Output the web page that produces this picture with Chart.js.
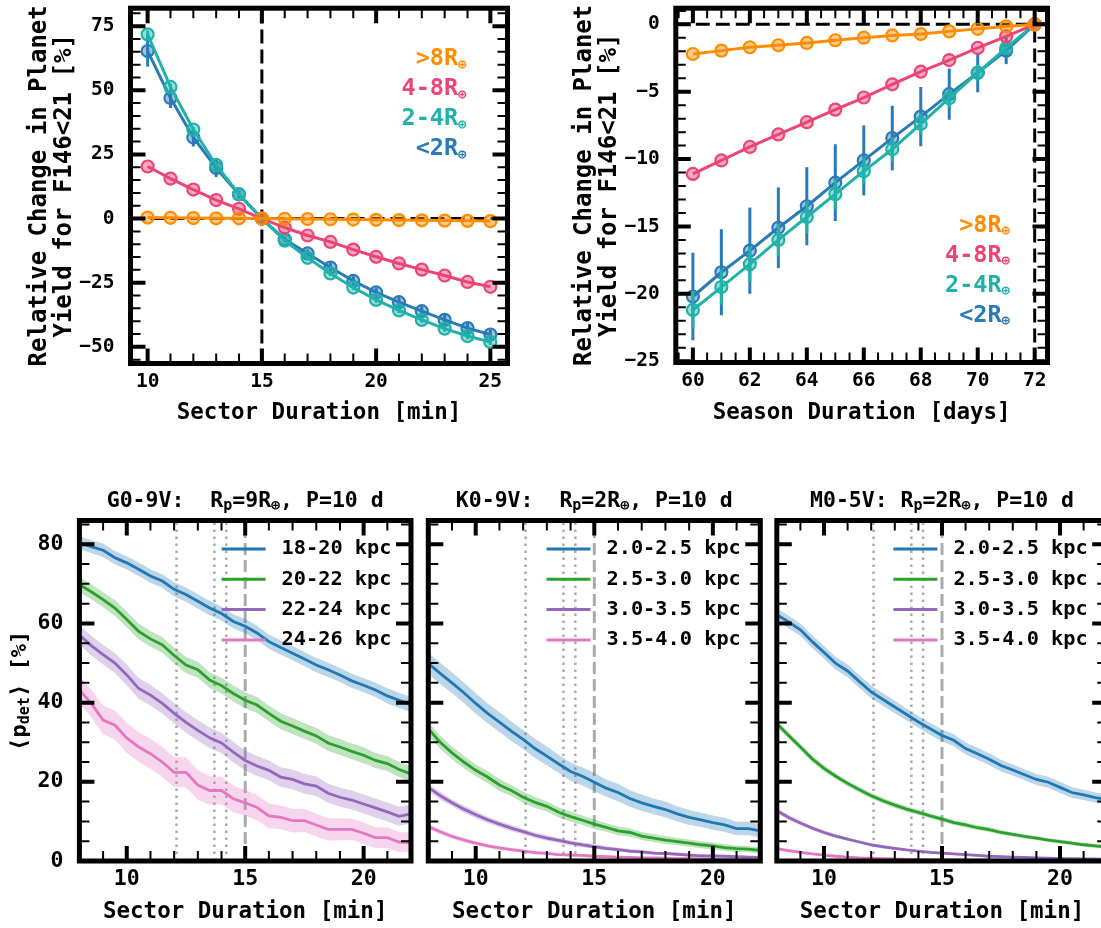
<!DOCTYPE html>
<html>
<head>
<meta charset="utf-8">
<title>Planet yield vs sector and season duration</title>
<script src="https://cdn.jsdelivr.net/npm/chart.js@4.4.1/dist/chart.umd.min.js"></script>
<style>
  html, body { margin: 0; padding: 0; background: #fff; }
  body { position: relative; width: 1101px; height: 928px; overflow: hidden; }
  canvas { position: absolute; }
</style>
</head>
<body>
<canvas id="sectorChart" width="540" height="430" style="left:0;top:0"></canvas>
<canvas id="seasonChart" width="561" height="430" style="left:540px;top:0"></canvas>
<canvas id="gChart" width="420" height="458" style="left:0;top:470px"></canvas>
<canvas id="kChart" width="350" height="458" style="left:420px;top:470px"></canvas>
<canvas id="mChart" width="345" height="458" style="left:770px;top:470px"></canvas>
<script>
// ---- top row: relative change in yield ----
const sizeBins = ['>8', '4-8', '2-4', '<2'];
const sizeColors = ['#ff8c00', '#ec4474', '#20b2aa', '#2a7ab8'];

const sectorMin = [10, 11, 12, 13, 14, 15, 16, 17, 18, 19, 20, 21, 22, 23, 24, 25];
const sectorGiant = [0.4, 0.3, 0.2, 0.1, 0.1, 0, -0.1, -0.2, -0.3, -0.4, -0.5, -0.6, -0.7, -0.8, -0.9, -1.0];
const sectorLarge = [20.3, 15.6, 11.3, 7.2, 3.8, 0, -3.5, -6.6, -9.1, -12.1, -14.9, -17.5, -19.9, -22.2, -24.7, -26.6];
const sectorMid = [71.8, 51.3, 34.7, 20.9, 9.5, 0, -8.6, -15.3, -21.4, -26.9, -31.7, -35.8, -39.5, -42.9, -45.8, -48.1];
const sectorSmall = [65.3, 47.0, 31.6, 19.7, 9.4, 0, -8.1, -13.6, -19.1, -24.3, -28.8, -32.6, -36.1, -39.5, -42.7, -45.2];
const sectorMidErr = [1.5, 1.2, 1.0, 0.8, 0.6, 0, 0.6, 0.8, 1.0, 1.0, 1.1, 1.1, 1.1, 1.2, 1.2, 1.2];
const sectorSmallErr = [6.1, 3.9, 3.5, 3.5, 1.5, 0, 1.0, 1.5, 1.8, 1.8, 2.0, 2.0, 2.0, 2.0, 2.0, 2.0];

const seasonDays = [60, 61, 62, 63, 64, 65, 66, 67, 68, 69, 70, 71, 72];
const seasonGiant = [-2.2, -1.95, -1.7, -1.55, -1.38, -1.18, -0.99, -0.82, -0.72, -0.52, -0.33, -0.15, 0];
const seasonLarge = [-11.1, -10.1, -9.1, -8.17, -7.26, -6.33, -5.43, -4.45, -3.51, -2.65, -1.75, -0.89, 0];
const seasonMid = [-21.2, -19.5, -17.8, -16.0, -14.3, -12.6, -10.9, -9.27, -7.39, -5.48, -3.59, -1.75, 0];
const seasonSmall = [-20.2, -18.4, -16.8, -15.1, -13.5, -11.75, -10.1, -8.44, -6.85, -5.18, -3.59, -1.95, 0];
const seasonMidErr = [1.4, 1.3, 1.3, 1.2, 1.2, 1.1, 1.0, 0.9, 0.8, 0.7, 0.6, 0.4, 0];
const seasonSmallErr = [3.25, 3.2, 3.2, 3.0, 2.9, 2.85, 2.6, 2.4, 2.2, 1.9, 1.45, 1.0, 0];

const nominalSector = 15;
const nominalSeason = 72;

// ---- bottom row: mean detection probability ----
const durGrid = [8, 8.5, 9, 9.5, 10, 10.5, 11, 11.5, 12, 12.5, 13, 13.5, 14, 14.5, 15, 15.5, 16, 16.5, 17, 17.5, 18, 18.5, 19, 19.5, 20, 20.5, 21, 21.5, 22];
const binColors = ['#1f77b4', '#2ca02c', '#9467bd', '#e377c2'];
const gBins = ['18-20 kpc', '20-22 kpc', '22-24 kpc', '24-26 kpc'];
const kBins = ['2.0-2.5 kpc', '2.5-3.0 kpc', '3.0-3.5 kpc', '3.5-4.0 kpc'];
const mBins = ['2.0-2.5 kpc', '2.5-3.0 kpc', '3.0-3.5 kpc', '3.5-4.0 kpc'];
const cadenceDotted = [12.1, 13.7, 14.2];

const g18_20 = [80.4, 79.4, 78.5, 76.6, 75.3, 73.7, 72.0, 70.7, 68.6, 67.3, 65.6, 63.9, 62.5, 60.5, 59.3, 57.6, 55.4, 53.9, 52.5, 51.0, 49.5, 48.3, 47.0, 45.5, 44.4, 43.2, 41.7, 40.6, 39.5];
const g20_22 = [69.8, 68.0, 66.0, 63.9, 61.0, 58.0, 56.1, 54.6, 51.9, 49.5, 48.3, 45.7, 44.3, 42.3, 40.6, 39.4, 37.3, 35.3, 34.1, 32.8, 31.6, 29.8, 28.8, 27.7, 26.7, 25.4, 24.6, 23.1, 22.0];
const g22_24 = [57.1, 54.4, 52.1, 50.0, 47.0, 43.6, 41.9, 39.8, 37.3, 35.0, 33.0, 31.1, 29.8, 27.5, 25.4, 24.0, 22.9, 21.2, 20.6, 19.5, 18.9, 17.1, 16.1, 15.4, 14.4, 13.4, 12.4, 11.3, 11.9];
const g24_26 = [43.2, 39.8, 35.6, 34.3, 31.1, 28.8, 27.1, 25.0, 22.4, 22.4, 19.2, 17.8, 17.8, 15.7, 14.7, 13.5, 11.4, 11.0, 10.2, 10.2, 9.1, 8.0, 8.0, 8.0, 7.0, 5.9, 5.9, 4.8, 4.7];
const g18_20Err = [1.6, 1.6, 1.7, 1.7, 1.7, 1.7, 1.7, 1.7, 1.8, 1.8, 1.8, 1.8, 1.8, 1.8, 1.8, 1.8, 1.8, 1.8, 1.8, 1.8, 1.8, 1.8, 1.8, 1.8, 1.8, 1.8, 1.9, 1.9, 1.9];
const g20_22Err = [1.9, 1.9, 1.9, 2.0, 2.0, 2.0, 2.0, 2.0, 2.0, 2.0, 2.0, 2.0, 2.0, 2.0, 2.0, 2.0, 2.0, 2.0, 2.0, 2.0, 2.0, 2.0, 2.0, 2.0, 2.0, 1.9, 1.9, 1.9, 1.9];
const g22_24Err = [2.4, 2.5, 2.5, 2.5, 2.6, 2.6, 2.6, 2.6, 2.6, 2.6, 2.6, 2.6, 2.6, 2.6, 2.5, 2.5, 2.5, 2.5, 2.5, 2.5, 2.5, 2.4, 2.4, 2.4, 2.4, 2.4, 2.4, 2.4, 2.4];
const g24_26Err = [3.4, 3.5, 3.6, 3.7, 3.8, 3.8, 3.8, 3.8, 3.8, 3.8, 3.7, 3.6, 3.5, 3.4, 3.3, 3.2, 3.1, 3.0, 3.0, 2.9, 2.9, 2.8, 2.8, 2.7, 2.7, 2.6, 2.6, 2.5, 2.5];

const k20_25 = [49.9, 47.4, 45.0, 42.5, 39.8, 37.3, 35.1, 32.8, 30.7, 28.4, 26.5, 24.5, 22.6, 21.4, 19.9, 18.4, 17.3, 15.8, 14.7, 13.8, 13.0, 11.9, 11.0, 10.4, 9.7, 9.1, 8.2, 8.2, 7.6];
const k25_30 = [33.4, 30.0, 27.3, 25.0, 22.9, 21.2, 19.2, 17.8, 16.1, 14.8, 13.8, 12.3, 11.2, 10.3, 9.3, 8.5, 7.6, 7.2, 6.3, 5.8, 5.3, 4.9, 4.5, 4.1, 3.8, 3.4, 3.1, 3.0, 2.7];
const k30_35 = [18.6, 16.5, 14.7, 13.1, 11.7, 10.4, 9.3, 8.3, 7.4, 6.5, 5.8, 5.2, 4.6, 4.1, 3.6, 3.2, 2.9, 2.5, 2.3, 2.0, 1.9, 1.7, 1.5, 1.3, 1.3, 1.2, 1.1, 1.0, 0.9];
const k35_40 = [8.7, 7.4, 6.2, 5.3, 4.5, 3.8, 3.3, 2.9, 2.5, 2.1, 1.9, 1.6, 1.5, 1.4, 1.2, 1.1, 1.0, 0.9, 0.8, 0.8, 0.7, 0.6, 0.6, 0.5, 0.5, 0.4, 0.4, 0.4, 0.3];
const k20_25Err = [2.7, 2.7, 2.6, 2.6, 2.6, 2.5, 2.5, 2.5, 2.4, 2.4, 2.4, 2.3, 2.3, 2.3, 2.3, 2.2, 2.2, 2.1, 2.1, 2.0, 2.0, 1.9, 1.9, 1.8, 1.8, 1.8, 1.7, 1.7, 1.7];
const k25_30Err = [1.7, 1.7, 1.6, 1.6, 1.5, 1.5, 1.5, 1.4, 1.4, 1.4, 1.3, 1.3, 1.3, 1.2, 1.2, 1.1, 1.1, 1.1, 1.0, 1.0, 1.0, 0.9, 0.9, 0.9, 0.9, 0.8, 0.8, 0.8, 0.8];
const k30_35Err = [1.0, 1.0, 0.9, 0.9, 0.9, 0.8, 0.8, 0.8, 0.7, 0.7, 0.7, 0.6, 0.6, 0.6, 0.6, 0.5, 0.5, 0.5, 0.5, 0.4, 0.4, 0.4, 0.4, 0.4, 0.3, 0.3, 0.3, 0.3, 0.3];
const k35_40Err = [0.7, 0.6, 0.6, 0.6, 0.5, 0.5, 0.5, 0.4, 0.4, 0.4, 0.4, 0.3, 0.3, 0.3, 0.3, 0.3, 0.3, 0.2, 0.2, 0.2, 0.2, 0.2, 0.2, 0.2, 0.2, 0.2, 0.2, 0.2, 0.2];

const m20_25 = [62.2, 60.4, 58.4, 55.4, 52.7, 49.9, 48.0, 45.3, 42.7, 40.8, 38.9, 37.0, 35.1, 33.4, 31.7, 30.5, 28.4, 27.1, 25.7, 24.1, 23.0, 21.8, 20.6, 19.9, 18.6, 17.3, 16.7, 16.0, 15.5];
const m25_30 = [34.7, 31.7, 28.8, 25.8, 23.4, 21.4, 19.6, 18.0, 16.5, 15.2, 14.1, 13.1, 12.3, 11.4, 10.6, 9.7, 9.1, 8.4, 7.9, 7.2, 6.7, 6.2, 5.8, 5.3, 4.9, 4.5, 4.1, 3.8, 3.5];
const m30_35 = [12.7, 11.0, 9.6, 8.3, 7.2, 6.3, 5.5, 4.8, 4.1, 3.6, 3.2, 2.8, 2.5, 2.2, 2.0, 1.8, 1.6, 1.4, 1.2, 1.1, 1.0, 0.9, 0.8, 0.7, 0.6, 0.6, 0.5, 0.5, 0.4];
const m35_40 = [3.1, 2.6, 2.2, 1.8, 1.5, 1.2, 1.0, 0.8, 0.7, 0.6, 0.5, 0.4, 0.4, 0.3, 0.3, 0.3, 0.2, 0.2, 0.2, 0.2, 0.1, 0.1, 0.1, 0.1, 0.1, 0.1, 0.1, 0.1, 0.1];
const m20_25Err = [1.6, 1.6, 1.6, 1.6, 1.6, 1.6, 1.6, 1.6, 1.6, 1.6, 1.6, 1.5, 1.5, 1.5, 1.5, 1.5, 1.5, 1.5, 1.5, 1.5, 1.4, 1.4, 1.4, 1.4, 1.4, 1.4, 1.3, 1.3, 1.3];
const m25_30Err = [0.8, 0.8, 0.8, 0.8, 0.8, 0.7, 0.7, 0.7, 0.7, 0.7, 0.7, 0.7, 0.6, 0.6, 0.6, 0.6, 0.6, 0.6, 0.6, 0.6, 0.5, 0.5, 0.5, 0.5, 0.5, 0.5, 0.5, 0.5, 0.5];
const m30_35Err = [0.6, 0.6, 0.5, 0.5, 0.5, 0.5, 0.4, 0.4, 0.4, 0.4, 0.4, 0.3, 0.3, 0.3, 0.3, 0.3, 0.3, 0.2, 0.2, 0.2, 0.2, 0.2, 0.2, 0.2, 0.2, 0.2, 0.2, 0.2, 0.2];
const m35_40Err = [0.4, 0.4, 0.3, 0.3, 0.3, 0.3, 0.2, 0.2, 0.2, 0.2, 0.2, 0.2, 0.2, 0.2, 0.2, 0.1, 0.1, 0.1, 0.1, 0.1, 0.1, 0.1, 0.1, 0.1, 0.1, 0.1, 0.1, 0.1, 0.1];

const FONT = "'DejaVu Sans Mono', 'Liberation Mono', monospace";
Chart.defaults.font.family = FONT;
Chart.defaults.font.weight = 'bold';
Chart.defaults.color = '#000';

const fmt = v => String(v).replace('-', '\u2212');

function fade(hex, a) {
  const n = parseInt(hex.slice(1), 16);
  return 'rgba(' + (n >> 16) + ',' + ((n >> 8) & 255) + ',' + (n & 255) + ',' + a + ')';
}

// text with subscripts: segs = [[text, isSub], ...]
function richText(ctx, segs, x, y, align, size, subSize, drop) {
  const widths = segs.map(s => {
    ctx.font = 'bold ' + (s[1] ? subSize : size) + 'px ' + FONT;
    return ctx.measureText(s[0]).width;
  });
  const total = widths.reduce((a, b) => a + b, 0);
  let cx = align === 'center' ? x - total / 2 : align === 'right' ? x - total : x;
  ctx.textAlign = 'left';
  ctx.textBaseline = 'alphabetic';
  segs.forEach((s, i) => {
    ctx.font = 'bold ' + (s[1] ? subSize : size) + 'px ' + FONT;
    ctx.fillText(s[0], cx, s[1] ? y + drop : y);
    cx += widths[i];
  });
}

// thick frame plus inward major/minor ticks on all four sides
function frameTicks(xMajor, xMinor, yMajor, yMinor) {
  return {
    id: 'frameTicks',
    afterDraw(chart) {
      const { ctx, chartArea: a } = chart;
      const sx = chart.scales.x, sy = chart.scales.y;
      const marks = (sc, step) => {
        const out = [];
        for (let k = Math.ceil(sc.min / step - 1e-9); k * step <= sc.max + 1e-9; k++) out.push(k * step);
        return out;
      };
      const onMajor = (v, step) => Math.abs(v / step - Math.round(v / step)) < 1e-6;
      ctx.save();
      ctx.strokeStyle = '#000';
      ctx.lineCap = 'butt';
      [[xMinor, 10, 2, false], [xMajor, 15, 4, true]].forEach(([step, len, w, major]) => {
        ctx.lineWidth = w;
        marks(sx, step).forEach(v => {
          if (!major && onMajor(v, xMajor)) return;
          const p = sx.getPixelForValue(v);
          ctx.beginPath();
          ctx.moveTo(p, a.bottom); ctx.lineTo(p, a.bottom - len);
          ctx.moveTo(p, a.top); ctx.lineTo(p, a.top + len);
          ctx.stroke();
        });
      });
      [[yMinor, 10, 2, false], [yMajor, 15, 4, true]].forEach(([step, len, w, major]) => {
        ctx.lineWidth = w;
        marks(sy, step).forEach(v => {
          if (!major && onMajor(v, yMajor)) return;
          const p = sy.getPixelForValue(v);
          ctx.beginPath();
          ctx.moveTo(a.left, p); ctx.lineTo(a.left + len, p);
          ctx.moveTo(a.right, p); ctx.lineTo(a.right - len, p);
          ctx.stroke();
        });
      });
      ctx.lineWidth = 5;
      ctx.lineJoin = 'miter';
      ctx.strokeRect(a.left, a.top, a.right - a.left, a.bottom - a.top);
      ctx.restore();
    }
  };
}

function refLines(lines) {
  return {
    id: 'refLines',
    beforeDatasetsDraw(chart) {
      const { ctx, chartArea: a } = chart;
      ctx.save();
      ctx.beginPath();
      ctx.rect(a.left, a.top, a.right - a.left, a.bottom - a.top);
      ctx.clip();
      lines.forEach(l => {
        ctx.strokeStyle = l.color;
        ctx.lineWidth = l.width;
        ctx.setLineDash(l.dash);
        ctx.beginPath();
        if (l.axis === 'x') {
          const p = chart.scales.x.getPixelForValue(l.value);
          ctx.moveTo(p, a.bottom); ctx.lineTo(p, a.top);
        } else {
          const p = chart.scales.y.getPixelForValue(l.value);
          ctx.moveTo(a.left, p); ctx.lineTo(a.right, p);
        }
        ctx.stroke();
      });
      ctx.restore();
    }
  };
}

function errorBars(errors) {
  return {
    id: 'errorBars',
    beforeDatasetDraw(chart, args) {
      const err = errors[args.index];
      if (!err) return;
      const ctx = chart.ctx, ds = chart.data.datasets[args.index], sy = chart.scales.y;
      ctx.save();
      ctx.strokeStyle = ds.borderColor;
      ctx.lineWidth = 3;
      args.meta.data.forEach((pt, i) => {
        if (!err[i]) return;
        const v = ds.data[i].y;
        ctx.beginPath();
        ctx.moveTo(pt.x, sy.getPixelForValue(v - err[i]));
        ctx.lineTo(pt.x, sy.getPixelForValue(v + err[i]));
        ctx.stroke();
      });
      ctx.restore();
    }
  };
}

function sizeLegend(anchor, inset, offset) {
  return {
    id: 'sizeLegend',
    afterDatasetsDraw(chart) {
      const { ctx, chartArea: a } = chart;
      ctx.save();
      sizeBins.forEach((lab, i) => {
        const y = anchor === 'top' ? a.top + offset + 30 * i
                                   : a.bottom - offset - 30 * (sizeBins.length - 1 - i);
        ctx.fillStyle = sizeColors[i];
        richText(ctx, [[lab + 'R', 0], ['\u2295', 1]], a.right - inset, y, 'right', 23.5, 14, 3.5);
      });
      ctx.restore();
    }
  };
}

function binLegend(labels) {
  return {
    id: 'binLegend',
    afterDatasetsDraw(chart) {
      const { ctx, chartArea: a } = chart;
      ctx.save();
      ctx.font = 'bold 20.3px ' + FONT;
      const w = Math.max(...labels.map(t => ctx.measureText(t).width));
      const tx = a.right - 19.5 - w;
      labels.forEach((t, i) => {
        const y = a.top + 28.5 + 30.3 * i;
        ctx.strokeStyle = binColors[i];
        ctx.lineWidth = 3;
        ctx.beginPath();
        ctx.moveTo(tx - 60, y); ctx.lineTo(tx - 16, y);
        ctx.stroke();
        ctx.fillStyle = '#000';
        ctx.textAlign = 'left';
        ctx.textBaseline = 'middle';
        ctx.fillText(t, tx, y);
      });
      ctx.restore();
    }
  };
}

function panelText(titleSegs, yLabelSegs) {
  return {
    id: 'panelText',
    afterDraw(chart) {
      const { ctx, chartArea: a } = chart;
      ctx.save();
      ctx.fillStyle = '#000';
      richText(ctx, titleSegs, (a.left + a.right) / 2, a.top - 14, 'center', 21.5, 15, 3);
      if (yLabelSegs) {
        ctx.translate(a.left - 53.5, (a.top + a.bottom) / 2);
        ctx.rotate(-Math.PI / 2);
        richText(ctx, yLabelSegs, 0, 0, 'center', 22, 15, 3);
      }
      ctx.restore();
    }
  };
}

function fixedScales(c, s) {
  const W = c.width, H = c.height, a = s.area;
  return {
    padding: { left: 0, top: a.top, right: W - a.right, bottom: 0 },
    yWidth: a.left,
    xHeight: H - a.bottom
  };
}

// pin the scale boxes so the plot area lands where the figure has it
const pinX = h => sc => { sc.height = h; sc.paddingLeft = 0; sc.paddingRight = 0; };
const pinY = w => sc => { sc.width = w; sc.paddingTop = 0; sc.paddingBottom = 0; };

function topPanel(id, xs, series, errs, s) {
  const canvas = document.getElementById(id);
  const L = fixedScales(canvas, s);
  const datasets = series.map((ys, i) => ({
    label: sizeBins[i] + 'R\u2295',
    data: xs.map((x, j) => ({ x: x, y: ys[j] })),
    borderColor: sizeColors[i],
    borderWidth: 3,
    pointRadius: 6,
    pointBorderWidth: 2.2,
    pointBorderColor: sizeColors[i],
    pointBackgroundColor: fade(sizeColors[i], 0.45),
    fill: false,
    tension: 0
  }));
  return new Chart(canvas, {
    type: 'line',
    data: { datasets },
    options: {
      responsive: false,
      animation: false,
      events: [],
      layout: { padding: L.padding },
      scales: {
        x: {
          type: 'linear', min: s.xMin, max: s.xMax,
          afterFit: pinX(L.xHeight),
          grid: { display: false }, border: { display: false },
          ticks: { stepSize: s.xStep, includeBounds: false, autoSkip: false, maxRotation: 0,
                   padding: -1, font: { size: 19.5 }, callback: fmt },
          title: { display: true, text: s.xTitle, font: { size: 22.5 }, padding: { top: 0, bottom: 3 } }
        },
        y: {
          type: 'linear', min: s.yMin, max: s.yMax,
          afterFit: pinY(L.yWidth),
          grid: { display: false }, border: { display: false },
          ticks: { stepSize: s.yStep, includeBounds: false, padding: 8, font: { size: 19.5 }, callback: fmt },
          title: { display: true, text: ['Relative Change in Planet', 'Yield for F146<21 [%]'],
                   font: { size: 24, lineHeight: 1.04 }, padding: { top: s.yTitlePad, bottom: 0 } }
        }
      },
      plugins: { legend: { display: false }, tooltip: { enabled: false }, colors: { enabled: false } }
    },
    plugins: [refLines(s.refs), errorBars(errs), sizeLegend(s.legend[0], s.legend[1], s.legend[2]),
              frameTicks(s.xStep, s.xMinor, s.yStep, s.yMinor)]
  });
}

function bottomPanel(id, series, errs, labels, s) {
  const canvas = document.getElementById(id);
  const L = fixedScales(canvas, s);
  const datasets = series.map((ys, i) => ({
    label: labels[i],
    data: durGrid.map((x, j) => ({ x: x, y: ys[j] })),
    borderColor: binColors[i],
    borderWidth: 2.8,
    pointRadius: 0,
    fill: false,
    tension: 0,
    order: 0
  }));
  series.forEach((ys, i) => {
    const lo = datasets.length;
    datasets.push({
      data: durGrid.map((x, j) => ({ x: x, y: ys[j] - errs[i][j] })),
      borderColor: 'rgba(0,0,0,0)', borderWidth: 0, pointRadius: 0, fill: false, order: 1
    });
    datasets.push({
      data: durGrid.map((x, j) => ({ x: x, y: ys[j] + errs[i][j] })),
      borderColor: 'rgba(0,0,0,0)', borderWidth: 0, pointRadius: 0,
      fill: lo, backgroundColor: fade(binColors[i], 0.3), order: 1
    });
  });
  const refs = cadenceDotted.map(v => ({ axis: 'x', value: v, color: '#aaaaaa', width: 2.5, dash: [2.5, 4.5] }));
  refs.push({ axis: 'x', value: nominalSector, color: '#aaaaaa', width: 3, dash: [12, 5] });
  return new Chart(canvas, {
    type: 'line',
    data: { datasets },
    options: {
      responsive: false,
      animation: false,
      events: [],
      layout: { padding: L.padding },
      scales: {
        x: {
          type: 'linear', min: 8, max: 22,
          afterFit: pinX(L.xHeight),
          grid: { display: false }, border: { display: false },
          ticks: { stepSize: 5, includeBounds: false, autoSkip: false, maxRotation: 0,
                   padding: -2, font: { size: 21.5 } },
          title: { display: true, text: 'Sector Duration [min]', font: { size: 22.5 }, padding: { top: 0, bottom: 2 } }
        },
        y: {
          type: 'linear', min: 0, max: 86,
          afterFit: pinY(L.yWidth),
          grid: { display: false }, border: { display: false },
          ticks: { display: s.yTicks, stepSize: 20, includeBounds: false, padding: 8, font: { size: 21.5 } }
        }
      },
      plugins: { legend: { display: false }, tooltip: { enabled: false }, colors: { enabled: false } }
    },
    plugins: [refLines(refs), binLegend(labels), frameTicks(5, 1, 20, 5), panelText(s.title, s.yLabel)]
  });
}

topPanel('sectorChart', sectorMin,
  [sectorGiant, sectorLarge, sectorMid, sectorSmall],
  [null, null, sectorMidErr, sectorSmallErr],
  {
    area: { left: 130.5, right: 507.5, top: 4.5, bottom: 363.5 },
    xMin: 9.25, xMax: 25.75, xStep: 5, xMinor: 1,
    yMin: -56.5, yMax: 82, yStep: 25, yMinor: 5,
    xTitle: 'Sector Duration [min]', yTitlePad: 27.4,
    refs: [
      { axis: 'x', value: nominalSector, color: '#000', width: 3, dash: [14, 6] },
      { axis: 'y', value: 0, color: '#000', width: 3, dash: [14, 6] }
    ],
    legend: ['top', 41, 57.2]
  });

topPanel('seasonChart', seasonDays,
  [seasonGiant, seasonLarge, seasonMid, seasonSmall],
  [null, null, seasonMidErr, seasonSmallErr],
  {
    area: { left: 135.8, right: 507.5, top: 5, bottom: 362.5 },
    xMin: 59.4, xMax: 72.45, xStep: 2, xMinor: 0.5,
    yMin: -25.1, yMax: 1.2, yStep: 5, yMinor: 1,
    xTitle: 'Season Duration [days]', yTitlePad: 32.4,
    refs: [
      { axis: 'x', value: nominalSeason, color: '#000', width: 3, dash: [14, 6] },
      { axis: 'y', value: 0, color: '#000', width: 3, dash: [14, 6] }
    ],
    legend: ['bottom', 37.5, 40.8]
  });

bottomPanel('gChart', [g18_20, g20_22, g22_24, g24_26], [g18_20Err, g20_22Err, g22_24Err, g24_26Err], gBins, {
  area: { left: 79.4, right: 411, top: 50.5, bottom: 391 },
  yTicks: true,
  title: [['G0-9V:  R', 0], ['p', 1], ['=9R', 0], ['\u2295', 1], [', P=10 d', 0]],
  yLabel: [['\u27E8p', 0], ['det', 1], ['\u27E9 [%]', 0]]
});

bottomPanel('kChart', [k20_25, k25_30, k30_35, k35_40], [k20_25Err, k25_30Err, k30_35Err, k35_40Err], kBins, {
  area: { left: 8.3, right: 340.3, top: 50.5, bottom: 391 },
  yTicks: false,
  title: [['K0-9V:  R', 0], ['p', 1], ['=2R', 0], ['\u2295', 1], [', P=10 d', 0]],
  yLabel: null
});

bottomPanel('mChart', [m20_25, m25_30, m30_35, m35_40], [m20_25Err, m25_30Err, m30_35Err, m35_40Err], mBins, {
  area: { left: 6.8, right: 337.2, top: 50.5, bottom: 391 },
  yTicks: false,
  title: [['M0-5V: R', 0], ['p', 1], ['=2R', 0], ['\u2295', 1], [', P=10 d', 0]],
  yLabel: null
});
</script>
</body>
</html>
